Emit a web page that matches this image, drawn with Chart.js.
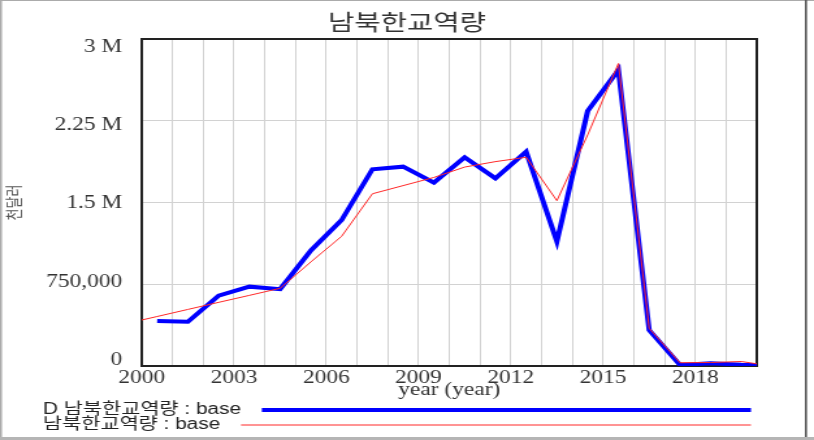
<!DOCTYPE html>
<html>
<head>
<meta charset="utf-8">
<script src="https://cdn.jsdelivr.net/npm/chart.js@4.4.1/dist/chart.umd.min.js"></script>
<style>
  html, body { margin: 0; padding: 0; background: #fff; }
</style>
</head>
<body>
<canvas id="c" width="626" height="440" style="display:block;width:814px;height:440px;"></canvas>
<script>
// ---- data ----
const chartTitle = '남북한교역량';
const xAxisTitle = 'year (year)';
const yAxisTitle = '천달러';

// "D 남북한교역량" (data series) sample times and values
const dataYears = [2000.5, 2001.5, 2002.5, 2003.5, 2004.5, 2005.5, 2006.5, 2007.5, 2008.5, 2009.5,
                   2010.5, 2011.5, 2012.5, 2013.5, 2014.5, 2015.5, 2016.5, 2017.5, 2018.5, 2019.5, 2020];
const dataValues = [413000, 406000, 645000, 728000, 705000, 1060000, 1339000, 1805000, 1829000, 1682000,
                    1915000, 1722000, 1966000, 1141000, 2339000, 2716000, 330000, 10000, 25000, 12000, 10000];

// "남북한교역량" (simulated series) sample times and values
const simYears = [2000, 2000.5, 2001.5, 2002.5, 2003.5, 2004.5, 2005.5, 2006.5, 2007.5, 2008.5, 2009.5,
                  2010.5, 2011.5, 2012.5, 2013.5, 2014.5, 2015.5, 2016.5, 2017.5, 2018.5, 2019.5, 2020];
const simValues = [422000, 454000, 519000, 584000, 648000, 713000, 955000, 1190000, 1580000, 1655000, 1730000,
                   1825000, 1875000, 1915000, 1517000, 2120000, 2775000, 346000, 30000, 32000, 41000, 20000];

const seriesLabels = ['D 남북한교역량 : base', '남북한교역량 : base'];

// axis ticks
const xTickLabels = [2000, 2003, 2006, 2009, 2012, 2015, 2018];
const yTickValues = [0, 750000, 1500000, 2250000, 3000000];
const yTickLabels = ['0', '750,000', '1.5 M', '2.25 M', '3 M'];

// ---- plugins for Vensim-style frame and legend ----
const vensimDecor = {
  id: 'vensimDecor',
  beforeDatasetsDraw(chart) {
    const {ctx, chartArea: a} = chart;
    ctx.save();
    ctx.strokeStyle = '#222';
    ctx.lineWidth = 2;
    ctx.strokeRect(a.left, a.top, a.right - a.left, a.bottom - a.top);
    ctx.restore();
  },
  afterDraw(chart) {
    const {ctx, width, height, chartArea: a} = chart;
    ctx.save();
    // legend rows below the axis
    ctx.font = '16px "Liberation Sans", "Noto Sans CJK KR", sans-serif';
    ctx.textBaseline = 'middle';
    ctx.textAlign = 'left';
    ctx.fillStyle = '#222';
    const rows = [410, 425];
    chart.data.datasets.forEach((ds, i) => {
      const y = rows[i];
      ctx.fillText(ds.label, 33, y);
      const w = ctx.measureText(ds.label).width;
      ctx.strokeStyle = ds.borderColor;
      ctx.lineWidth = ds.borderWidth;
      ctx.beginPath();
      ctx.moveTo(33 + w + 16, y);
      ctx.lineTo(a.right - 4.5, y);
      ctx.stroke();
    });
    // outer window frame
    ctx.fillStyle = '#ababab';
    ctx.fillRect(0, 0, width, 1);
    ctx.fillRect(0, 0, 1.5, height);
    ctx.fillStyle = '#b5b5b5';
    ctx.fillRect(0, height - 3, width, 3);
    ctx.fillStyle = '#555';
    ctx.fillRect(619, 0, 1.6, height - 3);
    ctx.restore();
  }
};

const tickFont = { family: '"Liberation Serif", "DejaVu Serif", serif', size: 18 };

new Chart(document.getElementById('c'), {
  type: 'line',
  data: {
    datasets: [
      {
        label: seriesLabels[0],
        data: dataYears.map((x, i) => ({ x, y: dataValues[i] })),
        borderColor: '#0000ff',
        borderWidth: 4,
        pointRadius: 0,
        tension: 0,
        fill: false,
        order: 1
      },
      {
        label: seriesLabels[1],
        data: simYears.map((x, i) => ({ x, y: simValues[i] })),
        borderColor: 'rgb(255,40,40)',
        borderWidth: 1,
        pointRadius: 0,
        tension: 0,
        fill: false,
        order: 0
      }
    ]
  },
  options: {
    responsive: false,
    maintainAspectRatio: false,
    devicePixelRatio: 1,
    animation: false,
    layout: { padding: { left: 0, right: 0, top: 0, bottom: 34 } },
    plugins: {
      legend: { display: false },
      tooltip: { enabled: false },
      title: {
        display: true,
        text: chartTitle,
        color: '#333',
        font: { family: '"Noto Sans CJK KR", sans-serif', size: 22, weight: 'normal' },
        padding: { top: 8, bottom: 4.6 }
      }
    },
    scales: {
      x: {
        type: 'linear',
        min: 2000,
        max: 2020,
        afterFit(scale) { scale.height = 40; },
        border: { display: false },
        grid: { color: '#d2d2d2', lineWidth: 1, drawTicks: false },
        ticks: {
          stepSize: 1,
          autoSkip: false,
          maxRotation: 0,
          padding: 1,
          color: '#333',
          font: tickFont,
          callback: (v) => xTickLabels.includes(v) ? String(v) : ''
        },
        title: {
          display: true,
          text: xAxisTitle,
          color: '#333',
          font: tickFont,
          padding: { top: 0, bottom: 5 }
        }
      },
      // value axis: carries the data and the horizontal grid
      y: {
        type: 'linear',
        position: 'left',
        min: 0,
        max: 3000000,
        weight: 0,
        afterFit(scale) { scale.width = 0; },
        border: { display: false },
        grid: { color: '#d2d2d2', lineWidth: 1, drawTicks: false },
        ticks: { stepSize: 750000, display: false }
      },
      // label axis: Vensim places the value labels on a slightly compressed band
      yLabels: {
        type: 'linear',
        position: 'left',
        min: -57600,
        max: 3081600,
        weight: 1,
        afterFit(scale) { scale.width = 109; },
        afterBuildTicks(scale) { scale.ticks = yTickValues.map(v => ({ value: v })); },
        border: { display: false },
        grid: { display: false, drawTicks: false },
        ticks: {
          padding: 15,
          color: '#333',
          font: tickFont,
          callback: (v) => {
            const i = yTickValues.indexOf(v);
            return i >= 0 ? yTickLabels[i] : '';
          }
        },
        title: {
          display: true,
          text: yAxisTitle,
          color: '#555',
          font: { family: '"Noto Sans CJK KR", sans-serif', size: 13 },
          padding: { top: 2, bottom: 0 }
        }
      },
      // empty right margin band
      yRight: {
        type: 'linear',
        position: 'right',
        afterFit(scale) { scale.width = 44; },
        border: { display: false },
        grid: { display: false, drawTicks: false },
        ticks: { display: false }
      }
    }
  },
  plugins: [vensimDecor]
});
</script>
</body>
</html>
